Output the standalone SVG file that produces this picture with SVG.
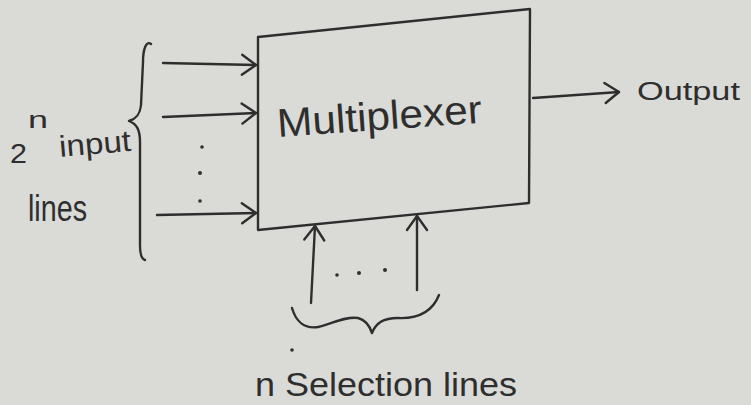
<svg xmlns="http://www.w3.org/2000/svg" width="751" height="405" viewBox="0 0 751 405">
<defs>
<marker id="arr" markerUnits="userSpaceOnUse" markerWidth="18" markerHeight="24" viewBox="0 0 18 24" refX="16" refY="12" orient="auto">
<path d="M2,2 L16,12 L2,22" fill="none" stroke="#2e2e2e" stroke-width="2.4" stroke-linecap="round" stroke-linejoin="round"/>
</marker>
</defs>
<style>
.ink{fill:none;stroke:#2e2e2e;stroke-width:2.4;stroke-linecap:round;stroke-linejoin:round}
.conn{fill:none;stroke:#2e2e2e;stroke-width:2.4;stroke-linecap:round;marker-end:url(#arr)}
.txt{font-family:"Liberation Sans",Arial,sans-serif;fill:#2e2e2e}
.dot{fill:#2e2e2e}
</style>
<rect x="0" y="0" width="751" height="405" fill="#dadad7"/>

<g id="mux">
<path class="ink" d="M258,37 L530,9 L529,203 L258,230 Z"/>
<text class="txt" x="278" y="137" font-size="40" textLength="205" lengthAdjust="spacingAndGlyphs" transform="rotate(-4 278 137)">Multiplexer</text>
</g>

<g id="output">
<text class="txt" x="637" y="100" font-size="26" textLength="103" lengthAdjust="spacingAndGlyphs">Output</text>
</g>

<g id="inputs-label">
<text class="txt" x="10" y="163" font-size="28" textLength="17" lengthAdjust="spacingAndGlyphs">2</text>
<text class="txt" x="28" y="128" font-size="24" textLength="20" lengthAdjust="spacingAndGlyphs">n</text>
<text class="txt" x="60" y="157" font-size="30" textLength="72" lengthAdjust="spacingAndGlyphs" transform="rotate(-5 60 157)">input</text>
<text class="txt" x="28" y="221" font-size="36" textLength="59" lengthAdjust="spacingAndGlyphs">lines</text>
<path class="ink" d="M151,44 C146,40 143,50 143,62 L141,105 C140,115 136,119 129,121 C137,124 140,130 140,142 L140,245 C140,254 141,259 145,260"/>
</g>

<g id="selection-label">
<text class="txt" x="255" y="396" font-size="34" textLength="262" lengthAdjust="spacingAndGlyphs">n Selection lines</text>
<circle class="dot" cx="292" cy="350" r="1.8"/>
<path class="ink" d="M292,308 C296,322 305,329 318,327 C332,324 345,316 358,318 C366,320 370,327 372,333 C376,323 383,318 398,318 C420,319 433,310 439,295"/>
</g>

<g id="connectors">
<line class="conn" x1="163" y1="63" x2="256" y2="65"/>
<line class="conn" x1="163" y1="117" x2="256" y2="113"/>
<line class="conn" x1="157" y1="215" x2="256" y2="213"/>
<circle class="dot" cx="202" cy="147" r="1.8"/>
<circle class="dot" cx="200" cy="173" r="2"/>
<circle class="dot" cx="200" cy="201" r="1.8"/>
<line class="conn" x1="311" y1="303" x2="315" y2="226"/>
<line class="conn" x1="417" y1="290" x2="417" y2="216"/>
<circle class="dot" cx="337" cy="275" r="1.8"/>
<circle class="dot" cx="359" cy="273" r="2"/>
<circle class="dot" cx="385" cy="270" r="2"/>
<line class="conn" x1="533" y1="98" x2="619" y2="92"/>
</g>
</svg>
